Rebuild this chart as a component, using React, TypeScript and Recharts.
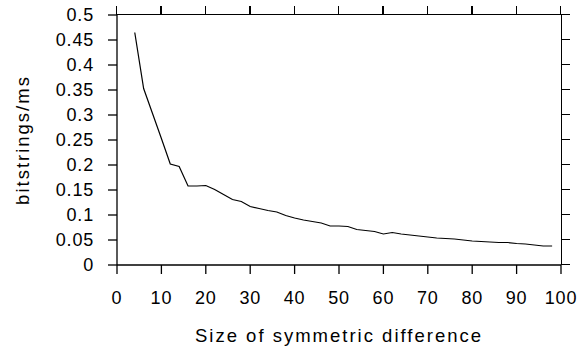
import { LineChart, Line, XAxis, YAxis } from 'recharts';

const sizes = [4, 6, 8, 10, 12, 14, 16, 18, 20, 22, 24, 26, 28, 30, 32, 34, 36, 38, 40, 42, 44, 46, 48, 50, 52, 54, 56, 58, 60, 62, 64, 66, 68, 70, 72, 74, 76, 78, 80, 82, 84, 86, 88, 90, 92, 94, 96, 98];
const rates = [0.465, 0.353, 0.303, 0.253, 0.202, 0.197, 0.158, 0.158, 0.159, 0.151, 0.141, 0.131, 0.127, 0.117, 0.113, 0.109, 0.106, 0.099, 0.094, 0.09, 0.087, 0.084, 0.078, 0.078, 0.077, 0.071, 0.069, 0.067, 0.062, 0.065, 0.062, 0.06, 0.058, 0.056, 0.054, 0.053, 0.052, 0.05, 0.048, 0.047, 0.046, 0.045, 0.045, 0.043, 0.042, 0.04, 0.038, 0.038];
const xTicks = [0, 10, 20, 30, 40, 50, 60, 70, 80, 90, 100];
const yTicks = [0, 0.05, 0.1, 0.15, 0.2, 0.25, 0.3, 0.35, 0.4, 0.45, 0.5];

const data = sizes.map((s, i) => ({ size: s, rate: rates[i] }));

const font = '"Liberation Sans", Arial, sans-serif';
const tickStyle = { fill: '#000', fontSize: 18, fontFamily: font, letterSpacing: 0.8 };
const titleStyle = { fill: '#000', fontSize: 18.5, fontFamily: font, letterSpacing: 2 };
const lineStyle = { stroke: '#000', strokeWidth: 1.3 };

// plot box: left 117, right 561, top 15, bottom 265
const App = () => {
  return (
    <div style={{ position: 'absolute', left: 0, top: 0, width: 577, height: 350, background: '#fff' }}>
      <LineChart width={577} height={350} data={data} margin={{ top: 15, right: 16, left: 0, bottom: 0 }}>
        <XAxis
          dataKey="size"
          type="number"
          domain={[0, 100]}
          ticks={xTicks}
          interval={0}
          height={85}
          tickSize={9}
          tickMargin={17}
          axisLine={lineStyle}
          tickLine={lineStyle}
          tick={tickStyle}
          label={{
            value: 'Size of symmetric difference',
            position: 'insideBottom',
            offset: 8,
            style: titleStyle,
          }}
        />
        <YAxis
          dataKey="rate"
          type="number"
          domain={[0, 0.5]}
          ticks={yTicks}
          interval={0}
          width={117}
          tickSize={9}
          tickMargin={14}
          axisLine={lineStyle}
          tickLine={lineStyle}
          tick={tickStyle}
          label={{
            value: 'bitstrings/ms',
            content: () => (
              <text
                x={22}
                y={140}
                transform="rotate(-90 22 140)"
                textAnchor="middle"
                dominantBaseline="central"
                style={titleStyle}
              >
                bitstrings/ms
              </text>
            ),
          }}
        />
        <Line
          type="linear"
          dataKey="rate"
          stroke="#000"
          strokeWidth={1.2}
          dot={false}
          isAnimationActive={false}
        />
      </LineChart>
      {/* top and right frame with outward ticks */}
      <div
        style={{
          position: 'absolute',
          left: 117,
          top: 14.35,
          width: 444.65,
          height: 250.65,
          boxSizing: 'border-box',
          borderTop: '1.3px solid #000',
          borderRight: '1.3px solid #000',
          pointerEvents: 'none',
        }}
      />
      <div
        style={{
          position: 'absolute',
          left: 116.35,
          top: 6,
          width: 446,
          height: 9,
          background: 'repeating-linear-gradient(90deg, #000 0px, #000 1.3px, transparent 1.3px, transparent 44.4px)',
          pointerEvents: 'none',
        }}
      />
      <div
        style={{
          position: 'absolute',
          left: 561,
          top: 14.35,
          width: 9,
          height: 251.3,
          background: 'repeating-linear-gradient(180deg, #000 0px, #000 1.3px, transparent 1.3px, transparent 25px)',
          pointerEvents: 'none',
        }}
      />
    </div>
  );
};

export default App;
